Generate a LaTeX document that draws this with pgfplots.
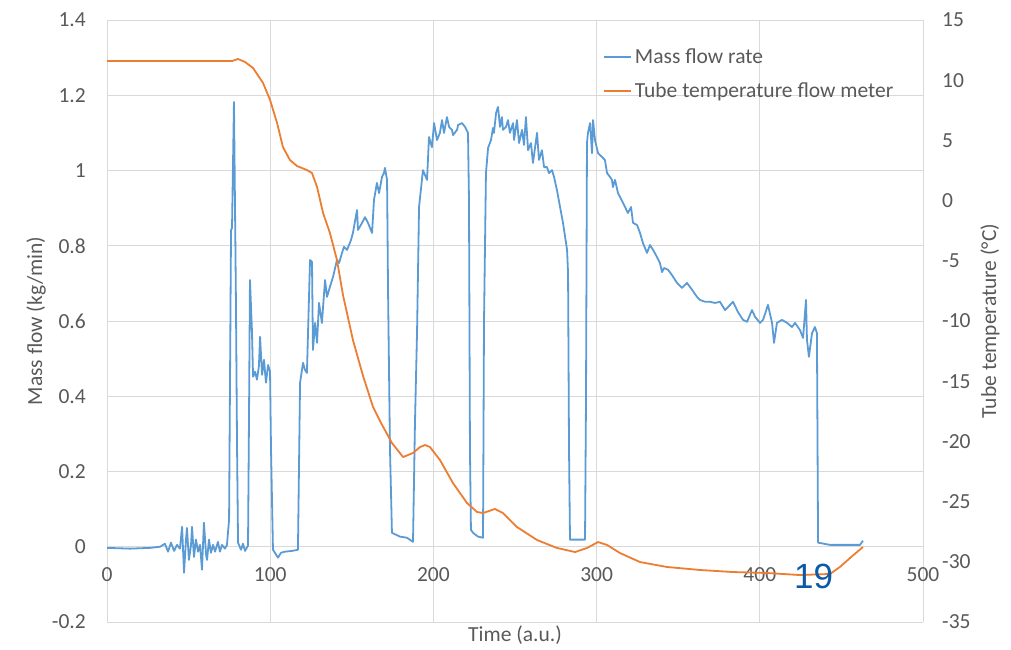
\documentclass[border=0pt]{standalone}
\usepackage{pgfplots}
\pgfplotsset{compat=1.18}
\usepackage{fontspec}
\setmainfont{Carlito}
\newfontfamily\arialfont{Liberation Sans}
\definecolor{flowblue}{RGB}{91,155,213}
\definecolor{temporange}{RGB}{237,125,49}
\definecolor{txtgray}{RGB}{89,89,89}
\definecolor{gridgray}{RGB}{217,217,217}
\definecolor{slideblue}{RGB}{12,90,165}
\newcommand{\chartfont}{\fontsize{21.5bp}{26bp}\selectfont}
\pgfplotsset{
  base/.style={
    scale only axis, width=816bp, height=602bp,
    xmin=0, xmax=500,
    axis line style={draw=none},
    major tick length=0pt,
    tick label style={font=\chartfont, text=txtgray, inner sep=0pt},
    label style={font=\chartfont, text=txtgray, inner sep=0pt},
    /pgf/number format/assume math mode=true,
  }
}
\pgfplotstableread{
t m
0 -0.003
14.1 -0.005
26.3 -0.003
32.5 0.000
35.5 0.008
37.4 -0.013
39.2 0.011
41.1 -0.011
42.9 0.005
44.7 -0.005
46.0 0.053
47.2 -0.069
48.4 0.019
49.0 0.050
50.2 -0.035
51.5 0.005
52.1 0.053
53.3 -0.027
54.5 0.019
55.8 -0.013
57.0 0.005
58.2 -0.061
59.4 0.064
60.7 -0.021
61.3 -0.035
62.5 0.019
63.7 -0.016
65.0 0.005
66.2 -0.013
68.0 0.013
69.2 -0.013
70.5 0.005
72.3 -0.005
73.5 0.005
74.8 0.072
76.0 0.842
76.6 0.847
77.8 1.182
79.0 0.656
79.7 0.258
80.3 0.011
82.1 -0.008
83.3 0.008
84.6 -0.011
86.4 0.003
87.0 0.337
87.6 0.709
88.8 0.576
89.5 0.452
90.7 0.465
91.9 0.444
93.1 0.481
93.8 0.558
95.0 0.457
96.2 0.497
97.4 0.436
98.7 0.483
99.9 0.465
100.5 0.258
101.7 -0.008
103.6 -0.021
104.8 -0.029
106.6 -0.016
109.1 -0.013
113.4 -0.011
117.0 -0.008
118.3 0.436
120.1 0.489
121.3 0.470
122.5 0.462
124.4 0.762
125.6 0.757
126.2 0.523
127.5 0.595
128.7 0.542
129.9 0.648
131.7 0.595
133.6 0.709
134.8 0.664
136.6 0.691
138.5 0.717
140.9 0.762
142.2 0.754
144.0 0.781
145.2 0.797
147.1 0.789
149.5 0.815
150.7 0.834
153.2 0.895
153.8 0.842
156.3 0.861
158.1 0.876
159.9 0.861
162.4 0.834
163.6 0.922
165.4 0.967
166.7 0.940
168.5 0.983
169.7 0.993
170.3 1.007
171.6 0.975
172.2 0.683
173.4 0.258
174.6 0.037
179.5 0.027
183.8 0.024
187.5 0.013
188.7 0.329
190.0 0.576
191.2 0.903
193.6 1.001
196.1 0.975
197.3 1.089
199.1 1.062
200.4 1.126
202.2 1.081
204.0 1.100
205.3 1.134
206.5 1.100
208.3 1.142
209.6 1.116
211.4 1.108
212.0 1.094
214.5 1.108
215.1 1.121
217.5 1.126
219.4 1.116
221.2 1.100
221.8 0.922
222.4 0.258
223.0 0.045
224.3 0.037
227.3 0.027
230.4 0.024
231.0 0.595
232.2 0.993
233.5 1.060
235.3 1.081
236.5 1.113
237.1 1.100
238.4 1.153
239.6 1.169
240.8 1.116
242.0 1.142
242.6 1.108
244.5 1.116
245.7 1.134
246.9 1.100
248.8 1.126
249.4 1.081
251.2 1.134
252.5 1.073
254.3 1.108
255.5 1.068
256.7 1.142
258.0 1.054
259.8 1.073
261.0 1.020
263.5 1.100
264.7 1.028
266.5 1.054
267.8 1.009
269.6 1.009
270.8 0.993
272.7 1.001
273.9 0.983
275.7 0.948
277.6 0.903
279.4 0.861
281.9 0.789
282.5 0.728
283.1 0.258
283.7 0.019
292.9 0.019
293.5 0.390
294.1 1.073
294.7 1.100
296.0 1.126
297.2 1.046
297.8 1.134
299.0 1.081
300.9 1.046
303.3 1.036
305.1 1.028
306.4 0.993
308.2 0.983
309.4 0.975
310.0 0.956
311.3 0.975
313.1 0.940
316.2 0.914
319.2 0.887
321.1 0.903
322.3 0.861
324.8 0.855
326.6 0.834
328.4 0.807
330.9 0.781
332.7 0.802
334.6 0.789
337.0 0.770
338.8 0.754
340.1 0.730
341.3 0.741
343.8 0.736
346.2 0.722
349.3 0.701
352.3 0.688
355.4 0.701
358.5 0.683
361.5 0.664
363.4 0.656
366.4 0.651
369.5 0.651
372.5 0.648
375.6 0.651
378.7 0.629
380.5 0.637
383.6 0.651
386.6 0.624
389.7 0.603
392.2 0.598
395.2 0.629
397.1 0.611
400.1 0.595
402.0 0.603
405.0 0.643
407.5 0.595
408.7 0.542
410.5 0.595
413.6 0.603
416.7 0.595
419.7 0.584
421.6 0.595
424.6 0.576
426.5 0.555
428.3 0.656
428.9 0.550
430.1 0.505
432.0 0.568
433.8 0.584
435.0 0.568
435.7 0.011
443.0 0.005
455.3 0.005
461.4 0.005
463.2 0.016
}\flowdata
\pgfplotstableread{
t T
0 11.59
76.6 11.59
80.3 11.76
84.6 11.51
89.5 11.01
95.6 9.77
99.9 8.36
104.2 6.45
107.8 4.45
112.1 3.37
116.4 2.87
122.5 2.54
125.6 2.29
128.7 1.13
132.4 -1.03
136.6 -2.69
140.9 -4.93
144.6 -7.84
150.7 -11.58
156.9 -14.57
163.0 -17.14
167.9 -18.47
174.6 -20.13
181.4 -21.30
187.5 -20.96
191.8 -20.47
194.9 -20.30
197.9 -20.47
204.0 -21.54
212.0 -23.46
220.6 -25.12
226.7 -25.86
230.4 -25.95
234.1 -25.78
237.7 -25.61
242.6 -25.95
251.2 -27.11
263.5 -28.19
275.7 -28.85
286.8 -29.19
294.1 -28.85
300.9 -28.36
306.4 -28.60
314.3 -29.27
326.6 -30.02
343.1 -30.43
363.4 -30.68
383.6 -30.85
404.4 -30.93
424.6 -31.10
443.0 -31.01
449.1 -30.43
455.3 -29.68
463.2 -28.77
}\tempdata
\begin{document}
\begin{tikzpicture}
\begin{axis}[base,
  ymin=-0.2, ymax=1.4,
  xtick={0,100,200,300,400,500},
  xticklabels={0,100,200,300,400,500},
  xticklabel style={anchor=center, yshift=47bp},
  ytick={-0.2,0,0.2,0.4,0.6,0.8,1,1.2,1.4},
  yticklabels={-0.2,0,0.2,0.4,0.6,0.8,1,1.2,1.4},
  yticklabel style={anchor=east, xshift=-21bp},
  grid=major, major grid style={gridgray, line width=0.9bp},
  xlabel={Time (a.u.)},
  xlabel style={at={(axis description cs:0.5,-0.021)}, anchor=center},
  ylabel={Mass flow (kg/min)},
  ylabel style={at={(axis description cs:-0.087,0.5)}, anchor=center},
]
\addplot[flowblue, line width=1.8bp, line join=round] table[x=t, y=m] {\flowdata};
\coordinate (bbsw) at (rel axis cs:0,0);
\coordinate (bbne) at (rel axis cs:1,1);
\end{axis}
\begin{axis}[base,
  ymin=-35, ymax=15,
  axis x line=none, axis y line*=right,
  ytick={-35,-30,-25,-20,-15,-10,-5,0,5,10,15},
  yticklabels={-35,-30,-25,-20,-15,-10,-5,0,5,10,15},
  yticklabel style={anchor=west, xshift=19bp},
  ylabel={Tube temperature (°C)},
  ylabel style={at={(axis description cs:1.082,0.5)}, anchor=center},
  legend style={at={(rel axis cs:0.6078,0.952)}, anchor=north west,
    draw=none, fill=none, inner sep=0pt, font=\chartfont, text=txtgray,
    row sep=17bp, column sep=3bp, nodes={inner sep=0pt}},
  legend cell align=left,
  legend image code/.code={\draw[#1] (0bp,0bp) -- (27bp,0bp);},
]
\addlegendimage{flowblue, line width=1.8bp}
\addlegendentry{Mass flow rate}
\addplot[temporange, line width=1.8bp, line join=round] table[x=t, y=T] {\tempdata};
\addlegendentry{Tube temperature flow meter}
\node[font=\arialfont\fontsize{35bp}{40bp}\selectfont, text=slideblue, inner sep=0pt] at (axis cs:433,-31.2) {19};
\end{axis}
\pgfresetboundingbox
\path[use as bounding box] ([xshift=-107bp,yshift=-27bp]bbsw) rectangle ([xshift=88bp,yshift=20bp]bbne);
\end{tikzpicture}
\end{document}
